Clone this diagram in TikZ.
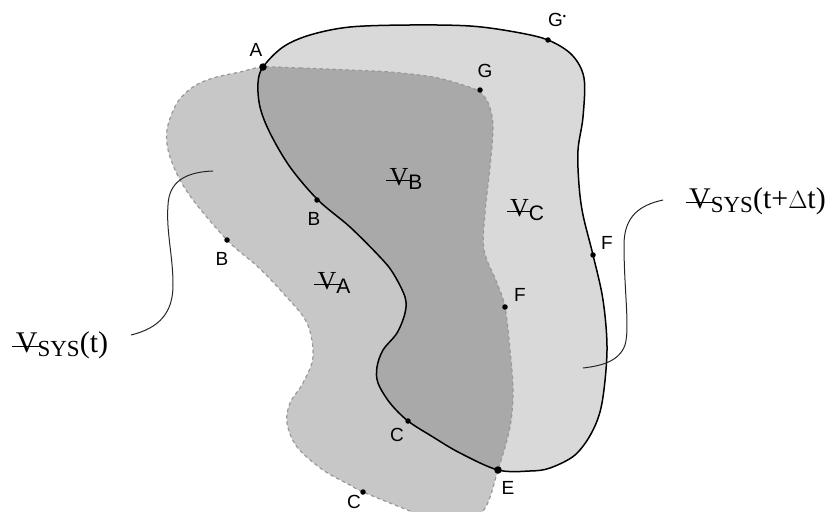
\documentclass[tikz,border=0pt]{standalone}
\usepackage{fontspec}
\setmainfont{Liberation Serif}
\newfontfamily\lsans{Liberation Sans}
\newcommand\vv{\rlap{\kern-0.12em\rule[0.16em]{0.98em}{0.05em}}V}
\newcommand\vlab[1]{{\fontsize{26}{26}\selectfont\vv}\raisebox{-4pt}{\lsans\fontsize{21}{21}\selectfont #1}}
\newcommand\vsys[1]{{\fontsize{30}{30}\selectfont\vv}\raisebox{-4pt}{\fontsize{23}{23}\selectfont SYS}{\fontsize{30}{30}\selectfont(#1)}}
\tikzset{
  lbl/.style={font=\lsans\fontsize{19}{19}\selectfont, inner sep=0pt},
  pdot/.style={circle, fill=black, inner sep=0pt, minimum size=5.5pt},
  bigdot/.style={circle, fill=black, inner sep=0pt, minimum size=7.5pt},
  dashline/.style={draw=black!40, line width=1.2pt, dash pattern=on 3.5pt off 3pt},
  solidline/.style={draw=black, line width=1.5pt},
  leader/.style={draw=black!85, line width=1pt},
  vtext/.style={inner sep=0pt}
}
\begin{document}
\begin{tikzpicture}[x=1pt,y=-1pt]
\useasboundingbox (0,0) rectangle (826,511);
\fill[white] (0,0) rectangle (826,511);
\begin{scope}
\clip (0,0) rectangle (826,511);
% system at t (dashed)
\fill[black, fill opacity=0.22] plot[smooth cycle, tension=0.55] coordinates {
 (263,67) (300,68) (350,70) (390,72) (433,77) (463,85) (480,92) (489,105) (493,127)
 (490,167) (485,213) (484,250) (497,283) (505,307) (510,350) (513,390) (510,427)
 (498,470) (483,511) (450,527) (410,511) (363,492) (350,485) (323,470) (297,447)
 (287,423) (290,403) (303,383) (313,357) (307,323) (283,293) (257,266) (227,240)
 (188,193) (170,157) (167,130) (177,103) (193,87) (213,78) (240,72)};
% system at t+dt (solid)
\fill[black, fill opacity=0.15] plot[smooth cycle, tension=0.55] coordinates {
 (263,67) (283,47) (310,35) (350,27) (410,25) (470,26) (515,32) (548,40) (572,55)
 (584,78) (583,117) (578,150) (579,185) (583,215) (593,255) (603,300) (607,350)
 (602,403) (592,432) (575,455) (550,468) (530,471) (498,470) (460,453) (433,437)
 (408,421) (390,403) (378,383) (377,367) (383,350) (397,333) (405,313) (405,297)
 (393,273) (380,257) (350,227) (318,200) (290,167) (270,133) (260,107) (258,83)};
\draw[dashline] plot[smooth cycle, tension=0.55] coordinates {
 (263,67) (300,68) (350,70) (390,72) (433,77) (463,85) (480,92) (489,105) (493,127)
 (490,167) (485,213) (484,250) (497,283) (505,307) (510,350) (513,390) (510,427)
 (498,470) (483,511) (450,527) (410,511) (363,492) (350,485) (323,470) (297,447)
 (287,423) (290,403) (303,383) (313,357) (307,323) (283,293) (257,266) (227,240)
 (188,193) (170,157) (167,130) (177,103) (193,87) (213,78) (240,72)};
\draw[solidline] plot[smooth cycle, tension=0.55] coordinates {
 (263,67) (283,47) (310,35) (350,27) (410,25) (470,26) (515,32) (548,40) (572,55)
 (584,78) (583,117) (578,150) (579,185) (583,215) (593,255) (603,300) (607,350)
 (602,403) (592,432) (575,455) (550,468) (530,471) (498,470) (460,453) (433,437)
 (408,421) (390,403) (378,383) (377,367) (383,350) (397,333) (405,313) (405,297)
 (393,273) (380,257) (350,227) (318,200) (290,167) (270,133) (260,107) (258,83)};
\end{scope}
% points
\node[bigdot] (pA) at (263,67) {};
\node[bigdot] (pE) at (498,470) {};
\node[pdot] (pGs) at (548,40) {};
\node[pdot] (pG) at (480,90) {};
\node[pdot] (pBs) at (317,200) {};
\node[pdot] (pB) at (227,240) {};
\node[pdot] (pFs) at (593,255) {};
\node[pdot] (pF) at (505,307) {};
\node[pdot] (pCs) at (408,421) {};
\node[pdot] (pC) at (363,492) {};
% point labels
\node[lbl] (lA) at (256,50) {A};
\node[lbl] (lGs) at (557,20) {G\raisebox{7pt}{\fontsize{9}{9}\selectfont\textbullet}};
\node[lbl] (lG) at (485,71) {G};
\node[lbl] (lBs) at (314,219) {B};
\node[lbl] (lB) at (222,259) {B};
\node[lbl] (lFs) at (607,243) {F};
\node[lbl] (lF) at (520,295) {F};
\node[lbl] (lCs) at (397,435) {C};
\node[lbl] (lC) at (354,502) {C};
\node[lbl] (lE) at (508,488) {E};
% volume labels
\node[vtext] (vB) at (406,179) {\vlab{B}};
\node[vtext] (vC) at (527,210) {\vlab{C}};
\node[vtext] (vA) at (334,283) {\vlab{A}};
\node[vtext] (sysT) at (62,345) {\vsys{t}};
\node[vtext, anchor=east] (sysTD) at (826,201) {\vsys{t+$\Delta$t}};
% leaders
\coordinate (l0) at (131,335);
\coordinate (l1) at (213,171);
\draw[leader] (l0) .. controls (160,328) and (173,312) .. (173,285)
  .. controls (173,255) and (166,232) .. (168,205)
  .. controls (169,182) and (185,172) .. (l1);
\coordinate (r0) at (663,200);
\coordinate (r1) at (583,368);
\draw[leader] (r0) .. controls (640,205) and (624,216) .. (624,245)
  .. controls (624,290) and (630,328) .. (625,345)
  .. controls (619,362) and (600,366) .. (r1);
\end{tikzpicture}
\end{document}
